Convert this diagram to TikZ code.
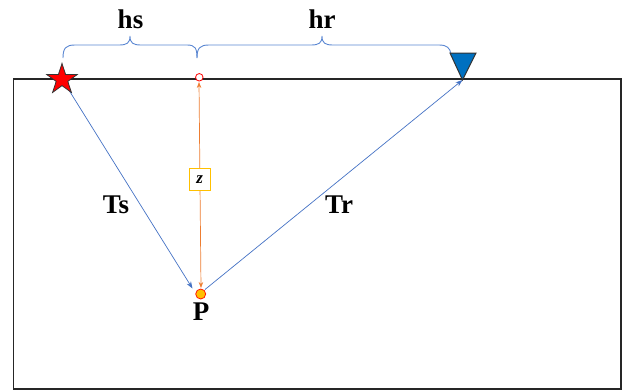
\documentclass[tikz,border=0pt]{standalone}
\usepackage{fontspec}
\setmainfont{Liberation Serif}
\usetikzlibrary{shapes.geometric,arrows.meta}
\definecolor{rayblue}{RGB}{68,114,196}
\definecolor{braceblue}{RGB}{91,135,210}
\definecolor{zorange}{RGB}{237,125,49}
\definecolor{gold}{RGB}{255,192,0}
\definecolor{recblue}{RGB}{0,112,192}
\tikzset{
  ray/.style={draw=rayblue, line width=0.7pt, -{Stealth[length=7pt,width=5pt]}},
  depth/.style={draw=zorange, line width=0.7pt, {Stealth[length=6pt,width=4.5pt]}-{Stealth[length=6pt,width=4.5pt]}},
  bracepath/.style={draw=braceblue, line width=0.9pt},
  lbl/.style={font=\fontsize{27}{30}\selectfont\bfseries, inner sep=0pt, anchor=base}
}
\begin{document}
\begin{tikzpicture}[x=1pt,y=-1pt]
\useasboundingbox (0,0) rectangle (626,391);
% ground box
\draw[black!85, line width=1.4pt] (13.5,79) rectangle (621,389);
% braces
\draw[bracepath] (63,58) .. controls (63,48) and (66,45) .. (75,45) -- (119,45)
  .. controls (127,45) and (130,43) .. (130,36)
  .. controls (130,43) and (133,45) .. (141,45) -- (187,45)
  .. controls (195,45) and (197,48) .. (197,58);
\draw[bracepath] (197,58) .. controls (197,48) and (200,45) .. (209,45) -- (311,45)
  .. controls (319,45) and (322,43) .. (322,36)
  .. controls (322,43) and (325,45) .. (333,45) -- (439,45)
  .. controls (447,45) and (450,48) .. (451,54);
\node[lbl] (hs) at (130.5,28) {hs};
\node[lbl] (hr) at (322,28) {hr};
% coordinates
\coordinate (s0) at (62,79);
\coordinate (s1) at (192.5,288.5);
\coordinate (apex) at (462.5,80);
\coordinate (p0) at (205,289.5);
\coordinate (zt) at (199,82);
\coordinate (zb0) at (201,288);
% rays
\draw[ray] (s0) -- (s1);
\draw[ray] (p0) -- (apex);
% depth arrow
\draw[depth] (zb0) -- (zt);
\node[draw=gold, fill=white, line width=1pt, minimum width=21pt, minimum height=22pt, inner sep=0pt,
  font=\fontsize{17}{18}\selectfont\bfseries\itshape] (zbox) at (199.8,179.5) {z};
% receiver
\filldraw[fill=recblue, draw=black!80, line width=1pt] (450,53) -- (476,53) -- (apex) -- cycle;
% source star
\node[star, star points=5, star point ratio=2.618, minimum size=32pt, inner sep=0pt,
  fill=red, draw=black!80, line width=0.8pt] (src) at (62,79.5) {};
% midpoint circle
\node[circle, draw=red, fill=white, line width=0.8pt, minimum size=7.5pt, inner sep=0pt] (mid) at (199.3,77.3) {};
% point P
\node[circle, draw=red!80!orange, fill=gold, line width=0.8pt, minimum size=10pt, inner sep=0pt] (p) at (200.7,294) {};
\node[lbl] (plbl) at (201,320) {P};
\node[lbl] (ts) at (116,213) {Ts};
\node[lbl] (tr) at (339,213) {Tr};
\end{tikzpicture}
\end{document}
